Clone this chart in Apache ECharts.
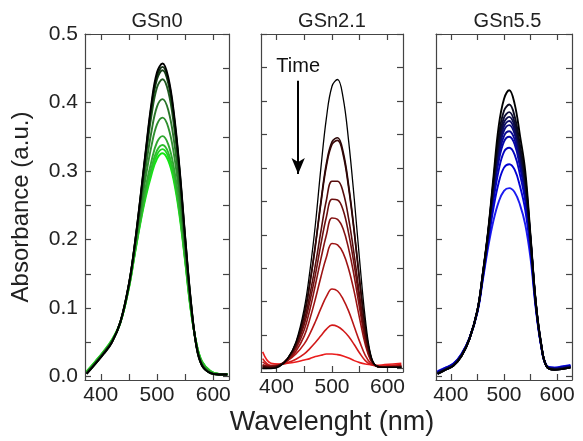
<!DOCTYPE html>
<html>
<head>
<meta charset="utf-8">
<script src="https://cdn.jsdelivr.net/npm/echarts@6/dist/echarts.min.js"></script>
<style>
  html, body { margin: 0; padding: 0; background: #fff; }
  #chart { width: 583px; height: 441px; }
</style>
</head>
<body>
<div id="chart"></div>
<script>
// wavelength grid (nm) shared by every spectrum
const wavelengths = [375, 390, 405, 420, 435, 450, 460, 470, 480, 490, 500, 510, 520, 530, 540, 550, 560, 570, 580, 595, 610, 625];

const panelTitles = ['GSn0', 'GSn2.1', 'GSn5.5'];
const xTickLabels = [400, 500, 600];
const xTicks = [400, 450, 500, 550, 600];
const yTickLabels = [0, 0.1, 0.2, 0.3, 0.4, 0.5];
const yTicks = [0, 0.05, 0.1, 0.15, 0.2, 0.25, 0.3, 0.35, 0.4, 0.45, 0.5];

// GSn0 spectra, first = earliest (black) to last (bright green)
const gsn0 = [
  [.004,.018,.033,.050,.080,.135,.190,.258,.330,.398,.444,.457,.437,.385,.305,.205,.112,.045,.016,.005,.003,.003],
  [.004,.018,.033,.050,.080,.135,.190,.257,.328,.394,.439,.452,.433,.381,.302,.203,.111,.045,.016,.005,.003,.003],
  [.005,.019,.034,.051,.080,.134,.189,.255,.325,.390,.434,.447,.428,.377,.299,.201,.110,.044,.016,.005,.003,.003],
  [.005,.019,.034,.051,.080,.134,.188,.252,.319,.380,.422,.434,.416,.367,.292,.197,.108,.045,.017,.005,.003,.003],
  [.005,.019,.034,.051,.079,.133,.186,.245,.305,.357,.394,.405,.389,.345,.277,.190,.106,.046,.018,.006,.003,.003],
  [.006,.020,.035,.052,.079,.132,.183,.238,.291,.336,.368,.378,.364,.325,.263,.183,.104,.047,.019,.006,.003,.003],
  [.006,.020,.035,.052,.079,.131,.180,.230,.277,.314,.342,.351,.339,.305,.249,.176,.101,.048,.020,.007,.004,.003],
  [.007,.021,.036,.053,.079,.130,.178,.226,.270,.304,.330,.338,.327,.295,.242,.172,.099,.048,.021,.007,.004,.004],
  [.007,.021,.036,.053,.079,.130,.177,.224,.266,.299,.324,.332,.321,.290,.239,.170,.098,.049,.022,.008,.004,.004],
  [.008,.022,.037,.054,.080,.129,.176,.222,.262,.294,.318,.326,.315,.285,.235,.168,.097,.049,.022,.008,.004,.004]
];
const gsn0Colors = ['#000000','#0d2a0d','#163f16','#1f5a1f','#297529','#2f8f2f','#30a830','#2cc02c','#22d422','#10e810'];

// GSn2.1 spectra, black to red
const gsn21 = [
  [.000,.000,.003,.015,.040,.090,.145,.215,.300,.375,.422,.432,.405,.340,.255,.160,.075,.020,.004,.002,.002,.002],
  [.002,.001,.004,.015,.038,.082,.128,.185,.250,.307,.339,.345,.324,.274,.207,.131,.063,.018,.004,.002,.002,.002],
  [.002,.001,.004,.015,.037,.080,.126,.183,.247,.303,.335,.341,.320,.270,.204,.129,.062,.018,.004,.002,.002,.002],
  [.003,.002,.005,.015,.035,.072,.110,.155,.205,.252,.280,.280,.264,.224,.170,.108,.052,.016,.004,.002,.002,.003],
  [.004,.003,.005,.014,.033,.066,.100,.140,.186,.227,.253,.252,.237,.202,.155,.099,.047,.015,.004,.002,.002,.003],
  [.005,.003,.005,.013,.030,.058,.088,.125,.164,.200,.225,.223,.209,.179,.138,.089,.042,.013,.004,.002,.002,.003],
  [.006,.003,.005,.012,.026,.049,.074,.104,.137,.167,.187,.185,.173,.149,.115,.074,.036,.012,.004,.002,.003,.004],
  [.010,.004,.006,.012,.022,.037,.052,.070,.090,.108,.119,.116,.104,.086,.063,.040,.020,.008,.004,.003,.004,.005],
  [.015,.005,.006,.009,.014,.022,.030,.039,.049,.059,.065,.063,.057,.048,.036,.023,.012,.006,.004,.004,.005,.006],
  [.025,.008,.007,.008,.010,.013,.015,.018,.020,.022,.022,.021,.019,.016,.012,.009,.007,.006,.005,.006,.007,.008]
];
const gsn21Colors = ['#000000','#2b0606','#3d0909','#560c0c','#6c0f0f','#841212','#9c1414','#b81717','#d21a1a','#ea1d1d'];

// GSn5.5 spectra, black to blue
const gsn55 = [
  [.004,.010,.016,.030,.055,.097,.150,.212,.290,.365,.405,.418,.398,.352,.300,.205,.108,.048,.015,.010,.011,.013],
  [.004,.010,.016,.030,.055,.097,.149,.210,.284,.351,.388,.397,.380,.338,.290,.202,.107,.047,.015,.010,.011,.013],
  [.004,.010,.016,.030,.055,.097,.149,.209,.280,.343,.378,.386,.371,.331,.285,.200,.106,.047,.015,.010,.011,.013],
  [.005,.010,.016,.030,.055,.096,.148,.208,.277,.338,.371,.379,.365,.326,.281,.199,.106,.047,.015,.011,.012,.014],
  [.005,.011,.017,.031,.055,.096,.148,.207,.274,.333,.365,.373,.359,.322,.278,.198,.105,.046,.015,.011,.012,.014],
  [.005,.011,.017,.031,.055,.096,.147,.206,.271,.328,.359,.367,.354,.318,.275,.197,.105,.046,.015,.011,.012,.014],
  [.006,.011,.017,.031,.055,.096,.147,.204,.267,.321,.351,.358,.346,.312,.270,.195,.104,.046,.016,.012,.013,.015],
  [.006,.012,.018,.032,.056,.096,.146,.203,.263,.314,.343,.350,.339,.306,.265,.193,.104,.046,.016,.012,.013,.015],
  [.007,.012,.018,.032,.056,.096,.145,.200,.256,.301,.328,.334,.324,.295,.256,.189,.103,.045,.016,.012,.014,.016],
  [.007,.013,.019,.033,.056,.095,.143,.195,.245,.283,.305,.310,.302,.278,.243,.183,.101,.045,.016,.013,.014,.016],
  [.008,.013,.019,.033,.056,.094,.140,.188,.227,.255,.271,.275,.269,.251,.222,.172,.098,.044,.016,.013,.015,.017]
];
const gsn55Colors = ['#000000','#0a0a1e','#0c0c38','#0c0c50','#0b0b68','#09097f','#070796','#0505ab','#0303c0','#0202d4','#1c1cf0'];

const panels = [
  { spectra: gsn0, colors: gsn0Colors, width: 1.9 },
  { spectra: gsn21, colors: gsn21Colors, width: 1.6 },
  { spectra: gsn55, colors: gsn55Colors, width: 1.9 }
];

const font = 'Liberation Sans';
const axisColor = '#444';
const grids = [
  { left: 85, top: 34, width: 144, height: 346 },
  { left: 261, top: 34, width: 142, height: 346 },
  { left: 436, top: 34, width: 143, height: 346 }
];

const xAxes = [];
const yAxes = [];
grids.forEach((g, i) => {
  const line = { show: true, onZero: false, lineStyle: { color: axisColor, width: 1.2 } };
  const tickStyle = { color: axisColor, width: 1.2 };
  xAxes.push({
    gridIndex: i, type: 'value', min: 372, max: 628, position: 'bottom',
    axisLine: line,
    axisTick: { show: true, inside: true, length: 6, customValues: xTicks, lineStyle: tickStyle },
    axisLabel: { customValues: xTickLabels, fontSize: 21, color: '#222', fontFamily: font, margin: 5 },
    splitLine: { show: false },
    name: i === 1 ? 'Wavelenght (nm)' : '', nameLocation: 'middle', nameGap: 37,
    nameTextStyle: { fontSize: 27, color: '#222', fontFamily: font }
  });
  xAxes.push({
    gridIndex: i, type: 'value', min: 372, max: 628, position: 'top',
    axisLine: line,
    axisTick: { show: true, inside: true, length: 6, customValues: xTicks, lineStyle: tickStyle },
    axisLabel: { show: true, customValues: xTicks, formatter: () => '' },
    splitLine: { show: false }
  });
  yAxes.push({
    gridIndex: i, type: 'value', min: -0.005, max: 0.5, position: 'left',
    axisLine: line,
    axisTick: { show: true, inside: true, length: 6, customValues: yTicks, lineStyle: tickStyle },
    axisLabel: {
      show: true, customValues: yTickLabels, fontSize: 21, color: '#222', fontFamily: font, margin: 7,
      formatter: v => (i === 0 ? v.toFixed(1) : '')
    },
    splitLine: { show: false },
    name: i === 0 ? 'Absorbance (a.u.)' : '', nameLocation: 'middle', nameGap: 52,
    nameTextStyle: { fontSize: 24, color: '#222', fontFamily: font }
  });
  yAxes.push({
    gridIndex: i, type: 'value', min: -0.005, max: 0.5, position: 'right',
    axisLine: line,
    axisTick: { show: true, inside: true, length: 6, customValues: yTicks, lineStyle: tickStyle },
    axisLabel: { show: true, customValues: yTicks, formatter: () => '' },
    splitLine: { show: false }
  });
});

const series = [];
panels.forEach((p, pi) => {
  // draw the latest (lowest) curves first so the black ones sit on top
  for (let k = p.spectra.length - 1; k >= 0; k--) {
    series.push({
      type: 'line',
      xAxisIndex: pi * 2,
      yAxisIndex: pi * 2,
      data: wavelengths.map((w, j) => [w, p.spectra[k][j]]),
      showSymbol: false,
      smooth: 0.4,
      lineStyle: { width: pi === 1 && k === 0 ? 1.3 : p.width, color: p.colors[k] },
      silent: true
    });
  }
});

// "Time" arrow in the GSn2.1 panel
series.push({
  type: 'line', xAxisIndex: 2, yAxisIndex: 2, data: [],
  markLine: {
    silent: true,
    symbol: ['none', 'arrow'],
    symbolSize: [10, 16],
    lineStyle: { color: '#000', width: 2, type: 'solid' },
    label: { show: true, position: 'start', formatter: 'Time', fontSize: 20, color: '#111', fontFamily: font, distance: 4 },
    data: [[{ coord: [439, 0.43] }, { coord: [439, 0.291] }]]
  }
});

const chart = echarts.init(document.getElementById('chart'));
chart.setOption({
  animation: false,
  backgroundColor: '#fff',
  grid: grids,
  xAxis: xAxes,
  yAxis: yAxes,
  graphic: grids.map((g, i) => ({
    type: 'text',
    x: g.left + g.width / 2,
    y: 21,
    style: { text: panelTitles[i], font: '20px "Liberation Sans"', fill: '#222', textAlign: 'center', textVerticalAlign: 'middle' }
  })),
  series: series
});
</script>
</body>
</html>
